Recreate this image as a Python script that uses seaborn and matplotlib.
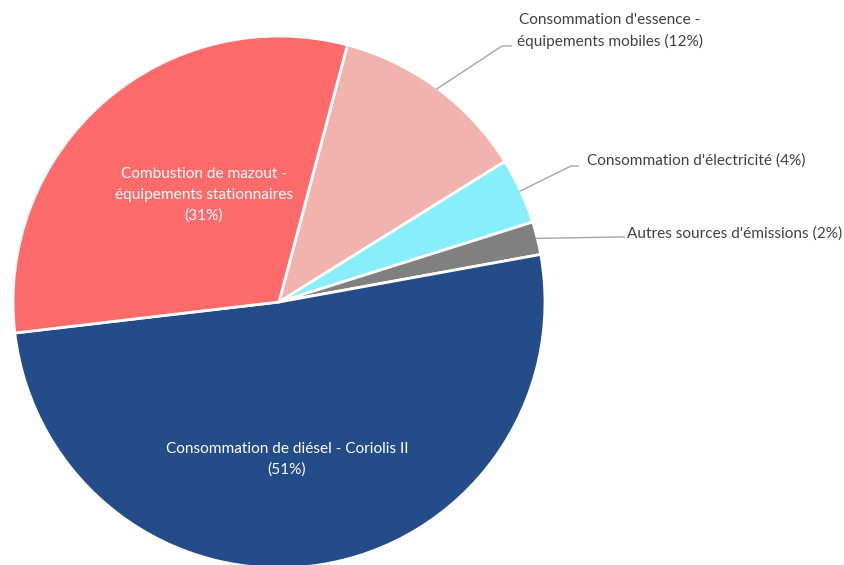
import numpy as np
import matplotlib
matplotlib.use("Agg")
import matplotlib.pyplot as plt
import seaborn as sns

# ---- data ----
categories = [
    "Consommation d'essence -\néquipements mobiles",
    "Consommation d'électricité",
    "Autres sources d'émissions",
    "Consommation de diésel - Coriolis II",
    "Combustion de mazout -\néquipements stationnaires",
]
shares = [12, 4, 2, 51, 31]
colors = ["#F2B2AE", "#88EEFB", "#808080", "#234C89", "#FF6B6B"]

sns.set_theme(style="white")
plt.rcParams["font.family"] = ["Lato", "DejaVu Sans"]

W, H = 845, 565
fig = plt.figure(figsize=(W / 100, H / 100), dpi=100)
ax = fig.add_axes([0, 0, 1, 1])

cx, cy, R = 279, H - 302, 266
wedges, _ = ax.pie(
    shares, colors=colors, startangle=75.1, counterclock=False,
    center=(cx, cy), radius=R, frame=True,
    wedgeprops=dict(edgecolor="white", linewidth=2),
)
ax.set_xlim(0, W)
ax.set_ylim(0, H)
ax.set_aspect("equal")
ax.axis("off")

fs = 11.1
txt = "#404040"
lc = "#A6A6A6"

def edge_point(w, r=1.0):
    th = np.deg2rad((w.theta1 + w.theta2) / 2)
    return cx + R * r * np.cos(th), cy + R * r * np.sin(th)

# outside labels with leader lines (elbow & text positions: layout)
outside = [
    (0, (502, H - 46), (512, H - 46), (610, H - 31), "center", f"{categories[0]} ({shares[0]}%)"),
    (1, (571, H - 166), (579, H - 166), (587, H - 161), "left", f"{categories[1]} ({shares[1]}%)"),
    (2, (617, H - 237), (625, H - 237), (627, H - 234), "left", f"{categories[2]} ({shares[2]}%)"),
]
for i, elbow, end, tpos, ha, label in outside:
    x0, y0 = edge_point(wedges[i], 0.995)
    ax.plot([x0, elbow[0], end[0]], [y0, elbow[1], end[1]], color=lc, lw=1, solid_capstyle="butt")
    ax.text(tpos[0], tpos[1], label, ha=ha, va="center", fontsize=fs, color=txt, linespacing=1.6)

# inside labels
ax.text(204, H - 195, f"{categories[4]}\n({shares[4]}%)", ha="center", va="center",
        fontsize=fs, color="white", linespacing=1.6)
ax.text(287, H - 459, f"{categories[3]}\n({shares[3]}%)", ha="center", va="center",
        fontsize=fs, color="white", linespacing=1.55)

fig.savefig("out.png", dpi=100, facecolor="white")
